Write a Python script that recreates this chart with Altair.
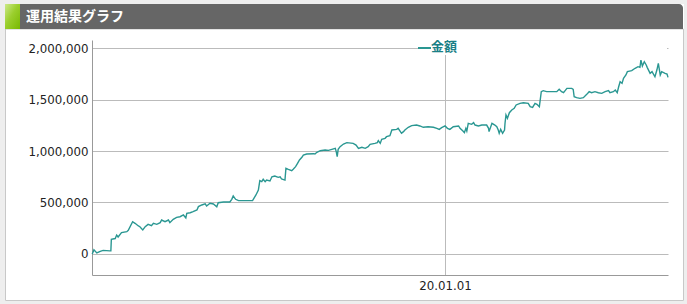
import altair as alt
import pandas as pd

# ---- data (day offset from start date, amount in yen) ----
start_date = "2018-01-01"
day = [0, 1, 4, 10, 17, 23, 37, 39, 40, 48, 51, 54, 61, 72, 75, 84, 89, 96, 99, 105, 110, 116, 123, 127,
       134, 141, 144, 151, 158, 161, 168, 175, 182, 189, 194, 196, 203, 209, 217, 220, 227, 234, 237,
       244, 251, 258, 261, 272, 285, 289, 292, 297, 303, 332, 339, 344, 347, 351, 354, 358, 361, 368,
       372, 378, 385, 389, 392, 399, 401, 406, 413, 416, 421, 425, 429, 434, 437, 444, 458, 461, 465,
       472, 482, 489, 496, 503, 505, 507, 509, 513, 520, 527, 540, 546, 551, 558, 565, 571, 575, 585,
       590, 592, 596, 599, 606, 609, 616, 620, 630, 633, 640, 644, 647, 654, 661, 671, 678, 685, 695,
       706, 713, 718, 723, 730, 735, 740, 747, 758, 761, 767, 770, 773, 775, 778, 785, 789, 792, 799,
       806, 816, 820, 821, 827, 833, 837, 840, 842, 845, 849, 853, 854, 856, 859, 863, 868, 873, 877,
       885, 892, 902, 906, 911, 916, 920, 925, 929, 933, 940, 947, 961, 966, 971, 975, 982, 992, 995,
       997, 1002, 1009, 1016, 1023, 1028, 1033, 1040, 1047, 1054, 1061, 1068, 1071, 1078, 1082, 1086,
       1089, 1092, 1096, 1099, 1104, 1107, 1116, 1123, 1129, 1133, 1135, 1138, 1142, 1146, 1148, 1154,
       1158, 1164, 1168, 1171, 1175, 1178, 1185, 1189, 1191]
amount_k = [0, 5, 40, 10, 25, 35, 30, 30, 143, 150, 184, 165, 207, 217, 230, 314, 298, 272, 265, 233,
            265, 288, 275, 298, 288, 304, 330, 314, 330, 304, 337, 356, 362, 379, 350, 395, 401, 411, 427,
            460, 476, 486, 466, 492, 486, 459, 498, 505, 505, 531, 563, 531, 518, 518, 573, 621, 712, 702,
            725, 702, 718, 709, 750, 757, 744, 750, 728, 718, 832, 822, 809, 822, 848, 880, 913, 939, 961,
            971, 974, 971, 987, 1003, 1010, 1006, 1016, 1026, 994, 945, 1016, 1042, 1068, 1081, 1074,
            1058, 1026, 1036, 1026, 1042, 1065, 1074, 1081, 1100, 1074, 1113, 1123, 1139, 1149, 1204,
            1210, 1220, 1172, 1188, 1204, 1230, 1246, 1252, 1243, 1230, 1236, 1230, 1220, 1210, 1226,
            1243, 1220, 1210, 1236, 1243, 1220, 1194, 1178, 1220, 1194, 1269, 1259, 1275, 1252, 1243,
            1252, 1252, 1220, 1188, 1269, 1252, 1236, 1204, 1172, 1210, 1172, 1204, 1269, 1350, 1317,
            1372, 1398, 1414, 1447, 1463, 1469, 1463, 1430, 1424, 1463, 1453, 1430, 1576, 1586, 1576,
            1576, 1576, 1599, 1576, 1566, 1608, 1608, 1599, 1527, 1518, 1511, 1518, 1550, 1576, 1566,
            1576, 1566, 1560, 1576, 1586, 1566, 1576, 1592, 1566, 1624, 1673, 1657, 1705, 1738, 1770,
            1780, 1803, 1819, 1812, 1883, 1825, 1867, 1835, 1812, 1754, 1770, 1721, 1786, 1851, 1738,
            1770, 1754, 1747, 1715]
series_name = "金額"
title_text = "運用結果グラフ"
y_ticks = [0, 500000, 1000000, 1500000, 2000000]

dates = (pd.Timestamp(start_date) + pd.to_timedelta(day, unit="D")).strftime("%Y-%m-%d")
df = pd.DataFrame({"date": dates, "amount": [v * 1000 for v in amount_k], "series": series_name})

LINE = "#2a9792"
TEXT_TEAL = "#1a7f86"
FONT = "DejaVu Sans"
CJK = "Noto Sans CJK JP"

one = pd.DataFrame({"k": [0]})

def box(x, x2, y, y2, **kw):
    return alt.Chart(one).mark_rect(**kw).encode(
        x=alt.value(x), x2=alt.value(x2), y=alt.value(y), y2=alt.value(y2))

# surroundings (page background strips)
strip = "#eeeeee"
bg_left = box(-92, -87, -40, 264, color=strip)
bg_right = box(592, 595, -40, 264, color=strip)
bg_top = box(-92, 595, -40, -36, color=strip)
bg_bottom = box(-92, 595, 261, 264, color=strip)
frame = box(-86.5, 591.5, -11, 260.5, fillOpacity=0, stroke="#c8c8c8", strokeWidth=1)

header = box(-87, 591, -36, -11, color="#666666", cornerRadiusTopRight=4)
accent = box(-87, -72, -36, -11, color=alt.Gradient(
    gradient="linear", x1=0, y1=0, x2=1, y2=1,
    stops=[alt.GradientStop(color="#cde98a", offset=0),
           alt.GradientStop(color="#9bcf2e", offset=0.45),
           alt.GradientStop(color="#78b800", offset=1)]))
title = alt.Chart(one).mark_text(
    text=title_text, font=CJK, fontSize=14, fontWeight="bold", color="white",
    align="left", baseline="middle").encode(x=alt.value(-66), y=alt.value(-23))

line = alt.Chart(df).mark_line(color=LINE, strokeWidth=1.4, interpolate="linear").encode(
    x=alt.X("date:T",
            scale=alt.Scale(type="utc",
                            domain=[alt.DateTime(year=2018, month=1, date=1, utc=True),
                                    alt.DateTime(year=2021, month=4, date=6, utc=True)]),
            axis=alt.Axis(title=None, values=[alt.DateTime(year=2020, month=1, date=1, utc=True)],
                          labelExpr="utcFormat(datum.value, '%y.%m.%d')",
                          ticks=False, labelPadding=5, grid=True, gridColor="#bbbbbb",
                          domainColor="#999999", labelFont=FONT, labelFontSize=11.8,
                          labelColor="#222222")),
    y=alt.Y("amount:Q",
            scale=alt.Scale(domain=[-203900, 2077700], nice=False, zero=False),
            axis=alt.Axis(title=None, values=y_ticks, format=",d", ticks=False, labelPadding=4,
                          grid=True, gridColor="#bbbbbb", domainColor="#999999",
                          labelFont=FONT, labelFontSize=11.8, labelColor="#222222")),
)

legend_bg = box(326, 575, 0, 15, color="white")
legend_line = alt.Chart(one).mark_rule(color=LINE, strokeWidth=2).encode(
    x=alt.value(326), x2=alt.value(339), y=alt.value(8))
legend_text = alt.Chart(one).mark_text(
    text=series_name, font=CJK, fontSize=13, fontWeight="bold", color=TEXT_TEAL,
    align="left", baseline="middle").encode(x=alt.value(339), y=alt.value(7))

chart = alt.layer(
    bg_left, bg_right, bg_top, bg_bottom, frame, header, accent, title,
    legend_bg, line, legend_line, legend_text
).properties(
    width=576, height=235,
    padding={"left": 92, "top": 40, "right": 19, "bottom": 29},
    autosize=alt.AutoSizeParams(type="none"),
    background="white",
).configure_view(stroke=None)

chart.save("out.html", embed_options={"renderer": "svg", "actions": False})
